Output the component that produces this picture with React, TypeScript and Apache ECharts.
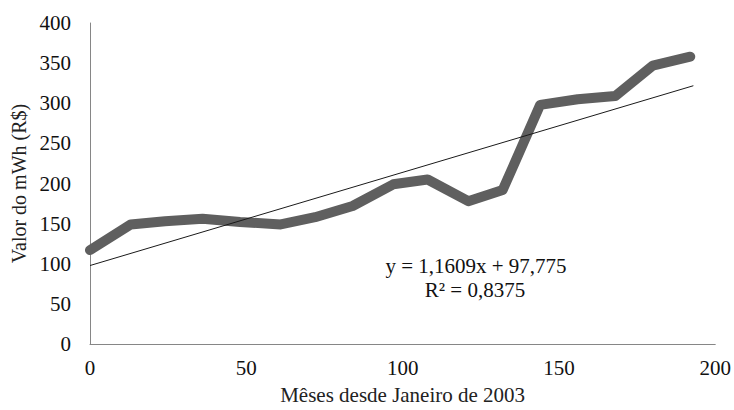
import React, { useEffect, useRef } from "react";
import * as echarts from "echarts";

// Months since January 2003 (x) and price of the MWh in R$ (y)
const months = [0, 13, 24, 36, 48, 61, 72, 84, 97, 108, 121, 132, 136, 144, 156, 168, 180, 192];
const prices = [117, 149, 153, 156, 152, 149, 158, 172, 199, 205, 178, 192, 227, 298, 305, 309, 347, 358];

// Linear trend line shown on the chart
const slope = 1.1609;
const intercept = 97.775;
const trendStart = 0;
const trendEnd = 193;

const xTicks = [0, 50, 100, 150, 200];
const yTicks = [0, 50, 100, 150, 200, 250, 300, 350, 400];

const equationText = "y = 1,1609x + 97,775";
const r2Text = "R² = 0,8375";
const xTitle = "Mêses desde Janeiro de 2003";
const yTitle = "Valor do mWh (R$)";

const FONT = "'Liberation Serif', 'Times New Roman', serif";

export default function App() {
  const ref = useRef<HTMLDivElement>(null);
  useEffect(() => {
    document.body.style.margin = "0";
    if (!ref.current) return;
    const chart = echarts.init(ref.current, undefined, { renderer: "svg" });
    const seriesData = months.map((m, i) => [m, prices[i]]);
    const trendData = [
      [trendStart, intercept + slope * trendStart],
      [trendEnd, intercept + slope * trendEnd],
    ];
    chart.setOption({
      animation: false,
      backgroundColor: "#ffffff",
      grid: { left: 90, right: 18, top: 23, bottom: 62, containLabel: false },
      xAxis: {
        type: "value",
        min: xTicks[0],
        max: xTicks[xTicks.length - 1],
        interval: 50,
        name: xTitle,
        nameLocation: "middle",
        nameGap: 40,
        nameTextStyle: { fontFamily: FONT, fontSize: 21, color: "#222" },
        axisLine: { show: true, lineStyle: { color: "#868686", width: 1 } },
        axisTick: { show: false },
        splitLine: { show: false },
        axisLabel: { fontFamily: FONT, fontSize: 21, color: "#111", margin: 13 },
      },
      yAxis: {
        type: "value",
        min: yTicks[0],
        max: yTicks[yTicks.length - 1],
        interval: 50,
        name: yTitle,
        nameLocation: "middle",
        nameRotate: 90,
        nameGap: 57,
        nameTextStyle: { fontFamily: FONT, fontSize: 20, color: "#222" },
        axisLine: { show: true, lineStyle: { color: "#868686", width: 1 } },
        axisTick: { show: false },
        splitLine: { show: false },
        axisLabel: { fontFamily: FONT, fontSize: 21, color: "#111", margin: 19 },
      },
      series: [
        {
          type: "line",
          data: seriesData,
          showSymbol: false,
          symbol: "none",
          lineStyle: { color: "#5f5f5f", width: 10, cap: "round", join: "round" },
          z: 2,
        },
        {
          type: "line",
          data: trendData,
          showSymbol: false,
          symbol: "none",
          lineStyle: { color: "#1a1a1a", width: 1 },
          z: 3,
        },
      ],
      graphic: [
        {
          type: "text",
          x: 476,
          y: 266,
          style: {
            text: equationText,
            font: `21px ${FONT}`,
            fill: "#111",
            align: "center",
            verticalAlign: "middle",
          },
        },
        {
          type: "text",
          x: 475,
          y: 290,
          style: {
            text: r2Text,
            font: `21px ${FONT}`,
            fill: "#111",
            align: "center",
            verticalAlign: "middle",
          },
        },
      ],
    });
    return () => chart.dispose();
  }, []);
  return <div ref={ref} style={{ width: 734, height: 410 }} />;
}
